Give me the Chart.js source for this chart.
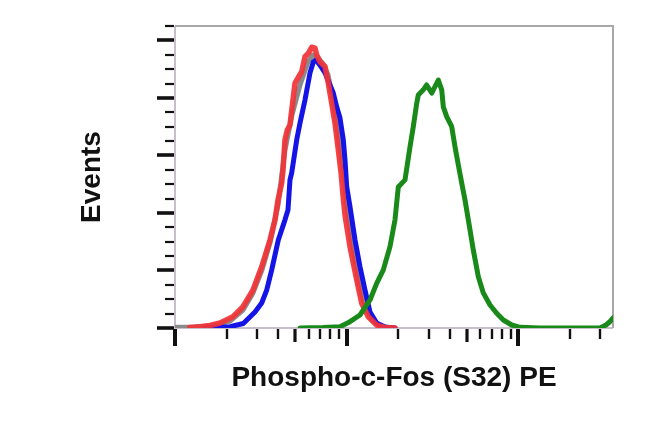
<!DOCTYPE html>
<html>
<head>
<meta charset="utf-8">
<script src="https://cdn.jsdelivr.net/npm/chart.js@4/dist/chart.umd.min.js"></script>
<style>
  body { margin: 0; background: #fff; }
  canvas { display: block; }
</style>
</head>
<body>
<canvas id="histChart" width="650" height="421"></canvas>
<script>
// channel values (log axis) and event counts
const grayX = [10, 13.08, 17.1, 20.91, 24.89, 28.47, 32.11, 35.75, 39.81, 43.71, 48.02, 53.46, 59.52, 63.64, 68.05, 72.78, 77.84, 82.12, 86.65, 91.41, 96.44, 101.8, 108.8, 117.9, 127.8, 140.4, 156.3, 178.7];
const grayY = [0.24, 0.35, 0.87, 2.43, 6.26, 12.2, 20.2, 29.6, 42.8, 61.9, 74.1, 84.5, 92.5, 94.9, 93.9, 91.8, 88.0, 81.0, 72.3, 62.6, 51.5, 39.3, 27.1, 15.6, 7.65, 2.78, 0.7, 0];

const blueX = [15.0, 20.91, 24.99, 29.24, 31.98, 34.2, 36.58, 39.96, 43.71, 45.5, 46.74, 47.83, 51.15, 53.46, 57.16, 61.14, 63.9, 66.25, 69.91, 74.77, 79.92, 83.55, 87.45, 91.41, 95.54, 97.75, 100.0, 104.5, 111.8, 119.5, 127.8, 136.7, 149.5, 167.1, 191.1];
const blueY = [0.1, 0.45, 1.56, 5.56, 8.69, 13.2, 20.2, 30.6, 37.6, 41.0, 51.5, 53.9, 65.4, 71.3, 79.3, 88.7, 92.5, 93.2, 91.4, 88.7, 84.5, 81.7, 76.9, 73.0, 65.4, 58.4, 49.1, 42.2, 30.6, 21.3, 13.2, 5.56, 1.74, 0.35, 0];

const redX = [12.2, 13.98, 16.0, 18.29, 21.77, 24.89, 28.47, 31.98, 35.75, 38.23, 39.81, 41.83, 42.56, 43.71, 45.08, 46.74, 49.99, 51.15, 54.69, 57.16, 59.75, 62.55, 65.38, 66.89, 69.91, 74.77, 78.15, 81.8, 85.5, 89.37, 92.64, 95.16, 97.75, 104.5, 114.4, 122.3, 133.6, 149.5, 167.1, 191.1];
const redY = [0.17, 0.45, 0.87, 1.74, 3.93, 7.41, 13.2, 21.3, 30.6, 37.6, 44.5, 50.4, 54.9, 65.4, 68.8, 70.6, 85.1, 86.2, 89.1, 94.3, 95.5, 97.6, 97.3, 94.9, 92.6, 90.9, 85.1, 78.1, 71.2, 61.9, 54.2, 46.2, 39.3, 28.3, 16.7, 8.6, 3.9, 1.0, 0.17, 0];

const greenX = [53.46, 72.78, 91.41, 104.5, 119.5, 136.7, 149.5, 163.4, 178.7, 191.1, 196.3, 199.8, 218.6, 233.7, 244.3, 255.7, 261.2, 279.3, 292.3, 312.6, 341.6, 357.6, 365.3, 382.3, 408.9, 427.4, 446.7, 467.6, 488.7, 522.5, 546.2, 584.2, 624.6, 683.3, 747.4, 816.9, 914.1, 1021, 1336, 2987, 3237, 3416, 3556];
const greenY = [0, 0.17, 0.45, 2.19, 4.52, 9.74, 15.5, 20.2, 28.3, 37.6, 44.5, 49.0, 51.5, 63.0, 70.0, 78.1, 81.0, 82.8, 84.5, 81.7, 86.2, 82.8, 76.9, 73.5, 70.0, 63.0, 56.7, 50.4, 44.5, 34.1, 27.1, 17.8, 12.2, 8.0, 5.11, 2.78, 1.04, 0.24, 0, 0, 1.04, 2.26, 3.48];

// tick marks
const xMajorTicks = [10, 100, 1000];
const xMidTicks = [50, 500];
const xMinorTicks = [20, 30, 40, 60, 70, 80, 90, 200, 300, 400, 600, 700, 800, 900, 2000, 3000];
const yMajorTicks = [0, 20, 40, 60, 80, 100];
const yMinorTicks = [5, 10, 15, 25, 30, 35, 45, 50, 55, 65, 70, 75, 85, 90, 95, 105];

const FONT = '"Liberation Sans", Arial, Helvetica, sans-serif';

function points(xs, ys) {
    return xs.map((x, i) => ({ x: x, y: ys[i] }));
}

function series(label, xs, ys, color, width) {
    return {
        label: label,
        data: points(xs, ys),
        borderColor: color,
        borderWidth: width,
        pointRadius: 0,
        tension: 0,
        fill: false,
        borderJoinStyle: 'round',
        borderCapStyle: 'round'
    };
}

const frameAndTicks = {
    id: 'frameAndTicks',
    beforeDatasetsDraw(chart) {
        const { ctx, chartArea: a } = chart;
        ctx.save();
        ctx.strokeStyle = '#a8a8a8';
        ctx.lineWidth = 2;
        ctx.beginPath();
        ctx.moveTo(a.left, a.top);
        ctx.lineTo(a.right, a.top);
        ctx.lineTo(a.right, a.bottom);
        ctx.stroke();
        ctx.strokeStyle = '#b4aabb';
        ctx.lineWidth = 1.5;
        ctx.beginPath();
        ctx.moveTo(a.left, a.top);
        ctx.lineTo(a.left, a.bottom);
        ctx.lineTo(a.right, a.bottom);
        ctx.stroke();
        ctx.restore();
    },
    afterDraw(chart) {
        const { ctx, chartArea: a, scales } = chart;
        ctx.save();
        ctx.strokeStyle = '#111';
        ctx.lineCap = 'butt';

        function xTick(v, len, w) {
            const px = Math.round(scales.x.getPixelForValue(v));
            ctx.lineWidth = w;
            ctx.beginPath();
            ctx.moveTo(px, a.bottom + 1);
            ctx.lineTo(px, a.bottom + 1 + len);
            ctx.stroke();
        }
        function yTick(v, len, w) {
            const py = Math.round(scales.y.getPixelForValue(v));
            ctx.lineWidth = w;
            ctx.beginPath();
            ctx.moveTo(a.left - 1, py);
            ctx.lineTo(a.left - 1 - len, py);
            ctx.stroke();
        }

        xMajorTicks.forEach(v => xTick(v, 17, 4));
        xMidTicks.forEach(v => xTick(v, 13, 3.2));
        xMinorTicks.forEach(v => xTick(v, 10, 2.4));
        yMajorTicks.forEach(v => yTick(v, 17, 3.6));
        yMinorTicks.forEach(v => yTick(v, 9, 2.2));
        ctx.restore();
    }
};

// Chart.js paints dataset 0 last, so the list runs top layer first
const ctx = document.getElementById('histChart').getContext('2d');
new Chart(ctx, {
    type: 'line',
    data: {
        datasets: [
            series('Treated', greenX, greenY, '#198a1a', 5),
            series('Blocked', redX, redY, 'rgba(242, 52, 56, 0.93)', 5.5),
            series('Untreated', blueX, blueY, '#1414e6', 5),
            series('Isotype', grayX, grayY, '#8a8a8a', 5)
        ]
    },
    options: {
        responsive: false,
        animation: false,
        layout: {
            padding: { top: 26, right: 37, left: 0, bottom: 0 }
        },
        plugins: {
            legend: { display: false },
            tooltip: { enabled: false }
        },
        scales: {
            x: {
                type: 'logarithmic',
                min: 10,
                max: 3556,
                ticks: { display: false },
                grid: { display: false },
                border: { display: false },
                afterFit: s => { s.height = 93; },
                title: {
                    display: true,
                    text: 'Phospho-c-Fos (S32) PE',
                    color: '#111',
                    font: { family: FONT, size: 28, weight: 'bold', lineHeight: 1.2 },
                    padding: { top: 0, bottom: 26 }
                }
            },
            y: {
                type: 'linear',
                min: 0,
                max: 105,
                ticks: { display: false },
                grid: { display: false },
                border: { display: false },
                afterFit: s => { s.width = 175; },
                title: {
                    display: true,
                    text: 'Events',
                    color: '#111',
                    font: { family: FONT, size: 28, weight: 'bold', lineHeight: 1.2 },
                    padding: { top: 75, bottom: 0 }
                }
            }
        }
    },
    plugins: [frameAndTicks]
});
</script>
</body>
</html>
